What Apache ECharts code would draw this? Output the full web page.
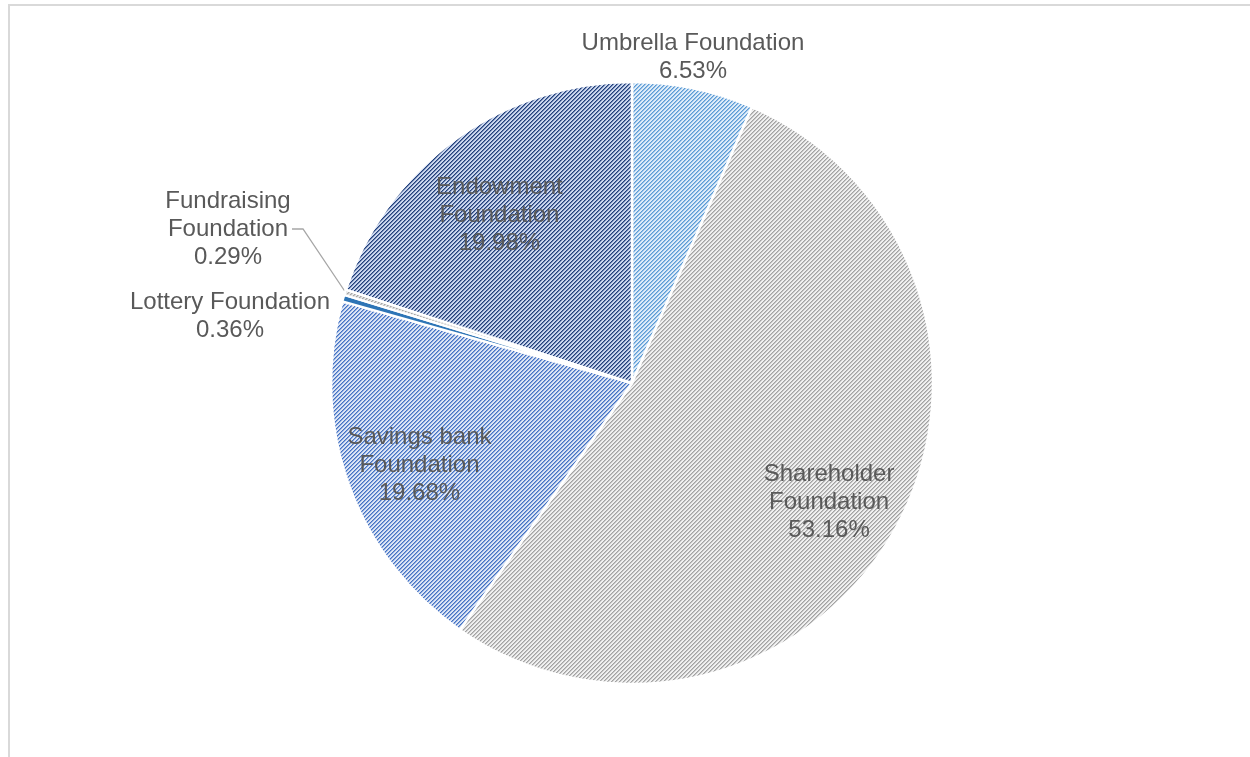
<!DOCTYPE html>
<html>
<head>
<meta charset="utf-8">
<script src="https://cdn.jsdelivr.net/npm/echarts@6/dist/echarts.min.js"></script>
<style>
html,body{margin:0;padding:0;background:#fff;}
#chart{width:1250px;height:757px;}
</style>
</head>
<body>
<div id="chart"></div>
<script>
// ---- data ----
const categories = ['Umbrella Foundation','Shareholder Foundation','Savings bank Foundation','Lottery Foundation','Fundraising Foundation','Endowment Foundation'];
const labelNames = ['Umbrella Foundation','Shareholder\nFoundation','Savings bank\nFoundation','Lottery Foundation','Fundraising\nFoundation','Endowment\nFoundation'];
const values = [6.53, 53.16, 19.68, 0.36, 0.29, 19.98];
const insideLabel = [false, true, true, false, false, true];

// ---- styles ----
const CX = 632, CY = 383, R = 301;
function mix(a, b, t) {
  const pa = [1, 3, 5].map(k => parseInt(a.substr(k, 2), 16));
  const pb = [1, 3, 5].map(k => parseInt(b.substr(k, 2), 16));
  return 'rgb(' + pa.map((v, k) => Math.round(v + (pb[k] - v) * t)).join(',') + ')';
}
function makePattern(bg, fg) {
  const c = document.createElement('canvas');
  c.width = 4; c.height = 4;
  const g = c.getContext('2d');
  g.fillStyle = bg; g.fillRect(0, 0, 4, 4);
  for (let x = 0; x < 4; x++) for (let y = 0; y < 4; y++) {
    const m = (x + y) % 4;
    if (m === 0) { g.fillStyle = fg; g.fillRect(x, y, 1, 1); }
    else if (m === 1) { g.fillStyle = mix(bg, fg, 0.55); g.fillRect(x, y, 1, 1); }
  }
  return { image: c, repeat: 'repeat' };
}
const fills = [
  makePattern('#deecf9', '#5b9bd5'),
  makePattern('#f0f0f0', '#a2a2a2'),
  makePattern('#dce5f5', '#4472c4'),
  '#2e75b6',
  makePattern('#e6e6e6', '#a5a5a5'),
  makePattern('#cad6ee', '#213f7a')
];
// explicit placement of the outside labels (Office style)
const outsidePos = {
  0: { x: 693, y: 57 },
  3: { x: 230, y: 316 },
  4: { x: 228, y: 229, line: [[346, 293], [303, 229], [292, 229]] }
};

const total = values.reduce((a, b) => a + b, 0);
const cum = [];
values.reduce((a, v, i) => { cum[i] = a; return a + v; }, 0);

const data = categories.map((name, i) => ({
  name: name,
  value: values[i],
  itemStyle: { color: fills[i] },
  label: { position: insideLabel[i] ? 'inside' : 'outside' },
  labelLine: { show: i === 4, lineStyle: { color: '#a6a6a6', width: 1.3 } }
}));

const chart = echarts.init(document.getElementById('chart'), null, { renderer: 'canvas' });
chart.setOption({
  animation: false,
  backgroundColor: '#ffffff',
  graphic: [{
    type: 'rect', silent: true,
    shape: { x: 9, y: 5, width: 1400, height: 900 },
    style: { fill: 'none', stroke: '#d9d9d9', lineWidth: 2 }
  }],
  series: [{
    type: 'pie',
    center: [CX, CY],
    radius: [0, R],
    startAngle: 90,
    clockwise: true,
    avoidLabelOverlap: false,
    minShowLabelAngle: 0,
    silent: true,
    itemStyle: { borderColor: '#ffffff', borderWidth: 2.5 },
    label: {
      show: true,
      color: '#595959',
      fontFamily: 'Liberation Sans, Arial, sans-serif',
      fontSize: 24,
      lineHeight: 28,
      align: 'center',
      formatter: p => labelNames[p.dataIndex] + '\n' + values[p.dataIndex].toFixed(2) + '%'
    },
    labelLine: { show: false, length: 10, length2: 10 },
    labelLayout: function (p) {
      const i = p.dataIndex;
      if (insideLabel[i]) {
        const frac = (cum[i] + values[i] / 2) / total;
        const th = frac * 2 * Math.PI;
        const d = 0.75 * R;
        const dy = [0, 9, 6, 0, 0, 15][i];
        return { x: CX + d * Math.sin(th), y: CY - d * Math.cos(th) + dy, align: 'center', verticalAlign: 'middle' };
      }
      const o = outsidePos[i];
      const res = { x: o.x, y: o.y, align: 'center', verticalAlign: 'middle' };
      if (o.line) res.labelLinePoints = o.line;
      return res;
    },
    data: data
  }]
});
</script>
</body>
</html>
